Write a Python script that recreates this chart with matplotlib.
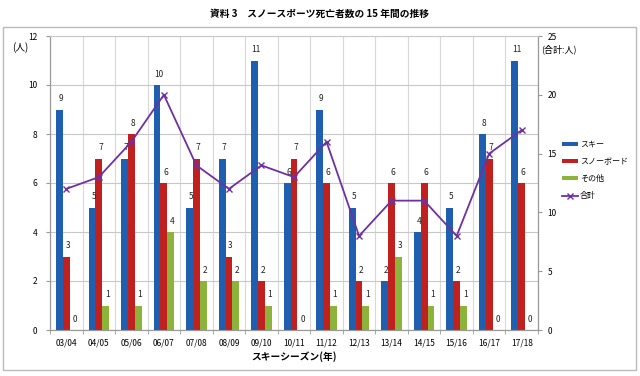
import matplotlib
matplotlib.use("Agg")
import matplotlib.pyplot as plt
import numpy as np
from matplotlib.patches import Rectangle

plt.rcParams['font.family'] = ['Noto Sans CJK JP', 'DejaVu Sans']

seasons = ["03/04", "04/05", "05/06", "06/07", "07/08", "08/09", "09/10", "10/11",
           "11/12", "12/13", "13/14", "14/15", "15/16", "16/17", "17/18"]
ski = [9, 5, 7, 10, 5, 7, 11, 6, 9, 5, 2, 4, 5, 8, 11]
snowboard = [3, 7, 8, 6, 7, 3, 2, 7, 6, 2, 6, 6, 2, 7, 6]
other = [0, 1, 1, 4, 2, 2, 1, 0, 1, 1, 3, 1, 1, 0, 0]
total = [12, 13, 16, 20, 14, 12, 14, 13, 16, 8, 11, 11, 8, 15, 17]

c_ski = "#1F5FAF"
c_sb = "#C0211F"
c_ot = "#8CB33A"
c_tot = "#7030A0"

fig = plt.figure(figsize=(6.4, 3.76), dpi=100)
ax = fig.add_axes([50/640, 1-330/376, (538-50)/640, (330-36)/376])
ax2 = ax.twinx()

x = np.arange(len(seasons))
w = 0.21
b1 = ax.bar(x - w, ski, w, color=c_ski, label="スキー", zorder=3)
b2 = ax.bar(x, snowboard, w, color=c_sb, label="スノーボード", zorder=3)
b3 = ax.bar(x + w, other, w, color=c_ot, label="その他", zorder=3)
for bars, vals in ((b1, ski), (b2, snowboard), (b3, other)):
    for r, v in zip(bars, vals):
        ax.text(r.get_x() + r.get_width()/2 + 0.05, v + 0.25, str(v), ha='center', va='bottom',
                fontsize=6, color='#222222', zorder=5)

ln, = ax2.plot(x, total, color=c_tot, marker='x', markersize=5, linewidth=1.3,
               label="合計", zorder=4)

ax.set_xlim(-0.5, len(seasons) - 0.5)
ax.set_ylim(0, 12)
ax.set_yticks(range(0, 13, 2))
ax2.set_ylim(0, 25)
ax2.set_yticks(range(0, 26, 5))

ax.set_xticks(x)
ax.set_xticklabels(seasons, fontsize=6)
ax.set_xticks(np.arange(-0.5, len(seasons), 1), minor=True)
ax.tick_params(axis='x', which='major', length=0, pad=6)
ax.tick_params(axis='x', which='minor', length=3, color='#999999')
ax.tick_params(axis='y', labelsize=6, length=3, color='#999999', pad=6)
ax2.tick_params(axis='y', labelsize=6, length=3, color='#999999', pad=4)

ax.grid(axis='y', color='#C8C8C8', linewidth=0.8, zorder=0)
ax.grid(axis='x', which='minor', color='#D8D8D8', linewidth=0.8, zorder=0)
ax.set_axisbelow(True)

for a in (ax, ax2):
    a.spines['top'].set_visible(False)
    a.spines['left'].set_color('#999999')
    a.spines['right'].set_color('#999999')
    a.spines['bottom'].set_color('#999999')
ax2.spines['top'].set_visible(True)
ax2.spines['top'].set_color('#C8C8C8')

ax.set_xlabel("スキーシーズン(年)", fontsize=7, fontweight='bold', labelpad=3)

fig.text(0.5, 1 - 14/376, "資料 3　スノースポーツ死亡者数の 15 年間の推移", ha='center', va='center',
         fontsize=7, fontweight='bold')
fig.text(12/640, 1 - 48/376, "(人)", ha='left', va='center', fontsize=7)
fig.text(541/640, 1 - 49/376, "(合計:人)", ha='left', va='center', fontsize=6.5)

fig.patches.append(Rectangle((3/640, 6/376), 633/640, 343/376, transform=fig.transFigure,
                             fill=False, edgecolor='#BBBBBB', linewidth=1))

handles = [b1, b2, b3, ln]
labels = [h.get_label() for h in handles]
fig.legend(handles, labels, loc='center left', bbox_to_anchor=(562/640, 1 - 170/376),
           frameon=False, fontsize=5.8, handlelength=2.0, handleheight=0.5,
           labelspacing=1.0, handletextpad=0.2, borderaxespad=0, borderpad=0)

fig.savefig("out.png", dpi=100)
